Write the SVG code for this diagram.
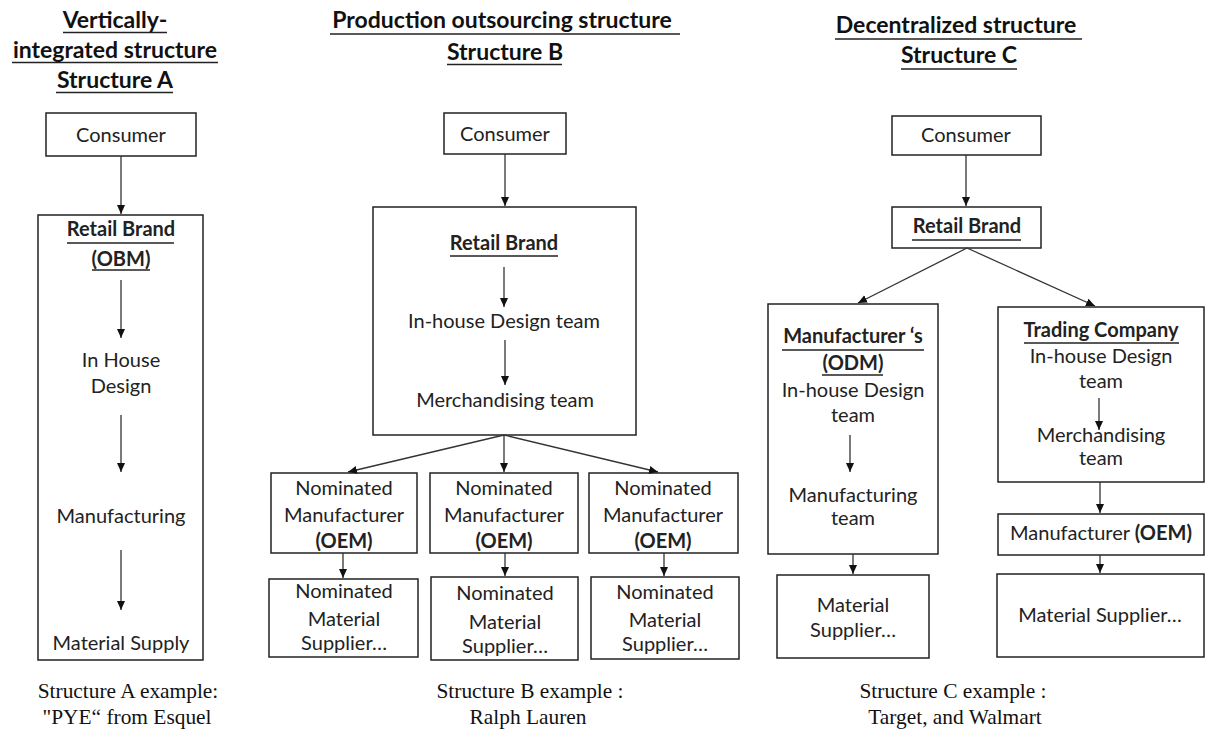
<svg xmlns="http://www.w3.org/2000/svg" width="1205" height="734" viewBox="0 0 1205 734">
  <style>
    .box { fill: #fff; stroke: #222; stroke-width: 1.5; }
    .t { font-family: Lato, "Liberation Sans", sans-serif; font-size: 20px; fill: #222; text-anchor: middle; }
    .b { font-weight: bold; }
    .title { font-family: Lato, "Liberation Sans", sans-serif; font-size: 23px; font-weight: bold; fill: #111; text-anchor: middle; }
    .ul { stroke: #222; stroke-width: 1.3; }
    .cap { font-family: "Liberation Serif", "Times New Roman", serif; font-size: 21.4px; fill: #111; text-anchor: middle; }
    .conn line { stroke: #333; stroke-width: 1.3; marker-end: url(#ah); }
  </style>
  <defs>
    <marker id="ah" markerWidth="10" markerHeight="10" refX="9" refY="4" orient="auto" markerUnits="userSpaceOnUse">
      <path d="M0,0 L9,4 L0,8 z" fill="#111"/>
    </marker>
  </defs>
  <rect width="1205" height="734" fill="#fff"/>

  <!-- Column headings -->
  <g id="title-a">
    <text class="title" x="115" y="28">Vertically-</text>
    <line class="ul" x1="63" y1="32.5" x2="167" y2="32.5"/>
    <text class="title" x="115" y="58">integrated structure</text>
    <line class="ul" x1="12" y1="62.5" x2="218" y2="62.5"/>
    <text class="title" x="115" y="88">Structure A</text>
    <line class="ul" x1="56" y1="92.5" x2="173" y2="92.5"/>
  </g>
  <g id="title-b">
    <text class="title" x="502" y="28">Production outsourcing structure</text>
    <line class="ul" x1="330" y1="34" x2="680" y2="34"/>
    <text class="title" x="505" y="60">Structure B</text>
    <line class="ul" x1="447" y1="64.5" x2="562" y2="64.5"/>
  </g>
  <g id="title-c">
    <text class="title" x="956" y="33">Decentralized structure</text>
    <line class="ul" x1="835" y1="39" x2="1082" y2="39"/>
    <text class="title" x="959" y="63">Structure C</text>
    <line class="ul" x1="901" y1="69" x2="1017" y2="69"/>
  </g>

  <!-- Structure A -->
  <g id="a-consumer">
    <rect class="box" x="46" y="113" width="150" height="43"/>
    <text class="t" x="121" y="142">Consumer</text>
  </g>
  <g id="a-retail-brand">
    <rect class="box" x="38" y="215" width="165" height="445"/>
    <text class="t b" x="121" y="236">Retail Brand</text>
    <line class="ul" x1="67" y1="243" x2="174" y2="243"/>
    <text class="t b" x="121" y="266">(OBM)</text>
    <line class="ul" x1="92" y1="270" x2="150" y2="270"/>
    <text class="t" x="121" y="367">In House</text>
    <text class="t" x="121" y="393">Design</text>
    <text class="t" x="121" y="523">Manufacturing</text>
    <text class="t" x="121" y="650">Material Supply</text>
  </g>

  <!-- Structure B -->
  <g id="b-consumer">
    <rect class="box" x="444" y="113" width="122" height="41"/>
    <text class="t" x="505" y="141">Consumer</text>
  </g>
  <g id="b-retail-brand">
    <rect class="box" x="373" y="207" width="263" height="228"/>
    <text class="t b" x="504" y="250">Retail Brand</text>
    <line class="ul" x1="450" y1="256" x2="558" y2="256"/>
    <text class="t" x="504" y="328">In-house Design team</text>
    <text class="t" x="505" y="407">Merchandising team</text>
  </g>
  <g id="b-oem-1">
    <rect class="box" x="271" y="473" width="146" height="80"/>
    <text class="t" x="344" y="495">Nominated</text>
    <text class="t" x="344" y="522">Manufacturer</text>
    <text class="t b" x="344" y="548">(OEM)</text>
  </g>
  <g id="b-oem-2">
    <rect class="box" x="430" y="473" width="148" height="80"/>
    <text class="t" x="504" y="495">Nominated</text>
    <text class="t" x="504" y="522">Manufacturer</text>
    <text class="t b" x="504" y="548">(OEM)</text>
  </g>
  <g id="b-oem-3">
    <rect class="box" x="589" y="473" width="149" height="80"/>
    <text class="t" x="663" y="495">Nominated</text>
    <text class="t" x="663" y="522">Manufacturer</text>
    <text class="t b" x="663" y="548">(OEM)</text>
  </g>
  <g id="b-supplier-1">
    <rect class="box" x="269" y="579" width="149" height="78"/>
    <text class="t" x="344" y="598">Nominated</text>
    <text class="t" x="344" y="626">Material</text>
    <text class="t" x="344" y="650">Supplier…</text>
  </g>
  <g id="b-supplier-2">
    <rect class="box" x="431" y="577" width="147" height="83"/>
    <text class="t" x="505" y="600">Nominated</text>
    <text class="t" x="505" y="629">Material</text>
    <text class="t" x="505" y="653">Supplier…</text>
  </g>
  <g id="b-supplier-3">
    <rect class="box" x="591" y="577" width="148" height="82"/>
    <text class="t" x="665" y="599">Nominated</text>
    <text class="t" x="665" y="627">Material</text>
    <text class="t" x="665" y="651">Supplier…</text>
  </g>

  <!-- Structure C -->
  <g id="c-consumer">
    <rect class="box" x="892" y="116" width="149" height="39"/>
    <text class="t" x="966" y="142">Consumer</text>
  </g>
  <g id="c-retail-brand">
    <rect class="box" x="892" y="207" width="149" height="41"/>
    <text class="t b" x="967" y="233">Retail Brand</text>
    <line class="ul" x1="912" y1="240" x2="1021" y2="240"/>
  </g>
  <g id="c-odm">
    <rect class="box" x="768" y="304" width="170" height="250"/>
    <text class="t b" x="853" y="343">Manufacturer ‘s</text>
    <line class="ul" x1="782" y1="350" x2="924" y2="350"/>
    <text class="t b" x="853" y="370">(ODM)</text>
    <line class="ul" x1="822" y1="375" x2="883" y2="375"/>
    <text class="t" x="853" y="397">In-house Design</text>
    <text class="t" x="853" y="422">team</text>
    <text class="t" x="853" y="502">Manufacturing</text>
    <text class="t" x="853" y="525">team</text>
  </g>
  <g id="c-supplier-1">
    <rect class="box" x="777" y="575" width="152" height="83"/>
    <text class="t" x="853" y="612">Material</text>
    <text class="t" x="853" y="637">Supplier…</text>
  </g>
  <g id="c-trading">
    <rect class="box" x="998" y="307" width="206" height="175"/>
    <text class="t b" x="1101" y="337">Trading Company</text>
    <line class="ul" x1="1024" y1="343" x2="1179" y2="343"/>
    <text class="t" x="1101" y="363">In-house Design</text>
    <text class="t" x="1101" y="388">team</text>
    <text class="t" x="1101" y="442">Merchandising</text>
    <text class="t" x="1101" y="465">team</text>
  </g>
  <g id="c-oem">
    <rect class="box" x="998" y="514" width="206" height="41"/>
    <text class="t" x="1101" y="540">Manufacturer <tspan class="b">(OEM)</tspan></text>
  </g>
  <g id="c-supplier-2">
    <rect class="box" x="997" y="574" width="207" height="83"/>
    <text class="t" x="1100" y="622">Material Supplier…</text>
  </g>

  <!-- Connectors -->
  <g id="connectors" class="conn">
    <line x1="121" y1="156" x2="121" y2="214"/>
    <line x1="121" y1="280" x2="121" y2="338"/>
    <line x1="121" y1="415" x2="121" y2="472"/>
    <line x1="121" y1="550" x2="121" y2="610"/>

    <line x1="505" y1="154" x2="505" y2="206"/>
    <line x1="504" y1="267" x2="504" y2="307"/>
    <line x1="505" y1="340" x2="505" y2="385"/>
    <line x1="504" y1="435" x2="348" y2="472"/>
    <line x1="504" y1="435" x2="504" y2="472"/>
    <line x1="504" y1="435" x2="658" y2="472"/>
    <line x1="343" y1="553" x2="343" y2="578"/>
    <line x1="505" y1="553" x2="505" y2="576"/>
    <line x1="664" y1="553" x2="664" y2="576"/>

    <line x1="966" y1="155" x2="966" y2="206"/>
    <line x1="967" y1="248" x2="858" y2="303"/>
    <line x1="967" y1="248" x2="1095" y2="306"/>
    <line x1="850" y1="435" x2="850" y2="472"/>
    <line x1="853" y1="554" x2="853" y2="574"/>
    <line x1="1099" y1="398" x2="1099" y2="430"/>
    <line x1="1100" y1="482" x2="1100" y2="513"/>
    <line x1="1100" y1="555" x2="1100" y2="573"/>
  </g>

  <!-- Example captions -->
  <g id="captions">
    <text class="cap" x="128" y="698">Structure A example:</text>
    <text class="cap" x="127" y="724">"PYE“ from Esquel</text>
    <text class="cap" x="530" y="698">Structure B example :</text>
    <text class="cap" x="528" y="724">Ralph Lauren</text>
    <text class="cap" x="953" y="698">Structure C example :</text>
    <text class="cap" x="955" y="724">Target, and Walmart</text>
  </g>
</svg>
